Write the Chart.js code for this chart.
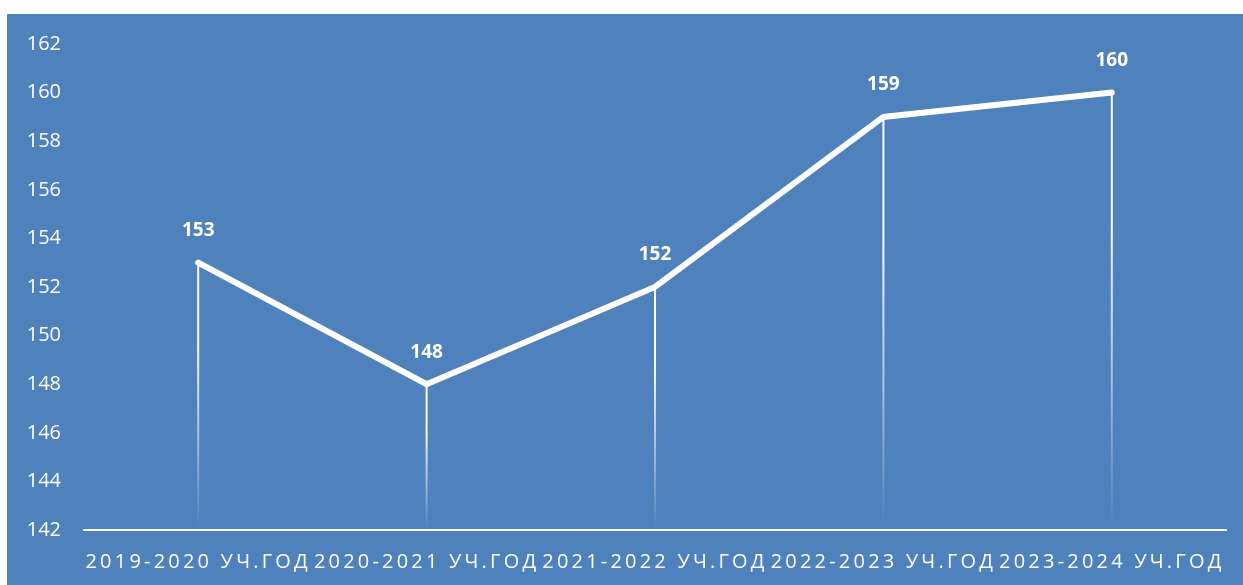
<!DOCTYPE html>
<html>
<head>
<meta charset="utf-8">
<script src="https://cdn.jsdelivr.net/npm/chart.js@4/dist/chart.umd.min.js"></script>
<style>
  html, body { margin: 0; padding: 0; background: #ffffff; }
  #wrap { position: absolute; left: 7px; top: 14px; width: 1236px; height: 571px; background: #4F81BD; }
  canvas { display: block; }
</style>
</head>
<body>
<div id="wrap"><canvas id="c" width="1236" height="571"></canvas></div>
<script>
const categories = ['2019-2020 УЧ.ГОД', '2020-2021 УЧ.ГОД', '2021-2022 УЧ.ГОД', '2022-2023 УЧ.ГОД', '2023-2024 УЧ.ГОД'];
const values = [153, 148, 152, 159, 160];
const yMin = 142;
const yMax = 162;
const yStep = 2;

const FONT = '"Open Sans", "Noto Sans", sans-serif';

const dropLines = {
  id: 'dropLines',
  beforeDatasetsDraw(chart) {
    const ctx = chart.ctx;
    const meta = chart.getDatasetMeta(0);
    const bottom = chart.chartArea.bottom;
    ctx.save();
    ctx.lineWidth = 2;
    meta.data.forEach(pt => {
      const g = ctx.createLinearGradient(0, pt.y, 0, bottom);
      g.addColorStop(0, 'rgba(255,255,255,1)');
      g.addColorStop(0.3, 'rgba(255,255,255,1)');
      g.addColorStop(1, 'rgba(255,255,255,0)');
      ctx.strokeStyle = g;
      ctx.beginPath();
      ctx.moveTo(pt.x, pt.y);
      ctx.lineTo(pt.x, bottom - 1);
      ctx.stroke();
    });
    ctx.restore();
  }
};

const valueLabels = {
  id: 'valueLabels',
  afterDatasetsDraw(chart) {
    const ctx = chart.ctx;
    const meta = chart.getDatasetMeta(0);
    const data = chart.data.datasets[0].data;
    ctx.save();
    ctx.fillStyle = '#ffffff';
    ctx.font = 'bold 19px ' + FONT;
    ctx.textAlign = 'center';
    ctx.textBaseline = 'middle';
    meta.data.forEach((pt, i) => {
      ctx.fillText(String(data[i]), pt.x, pt.y - 32);
    });
    ctx.restore();
  }
};

const spacedX = {
  id: 'spacedX',
  beforeDraw(chart) {
    const s = chart.scales.x;
    if (s && !s._spaced) {
      const orig = s.drawLabels.bind(s);
      s.drawLabels = function (area) {
        const c = this.ctx;
        c.save();
        c.letterSpacing = '3.2px';
        orig(area);
        c.restore();
      };
      s._spaced = true;
    }
  }
};

new Chart(document.getElementById('c'), {
  type: 'line',
  data: {
    labels: categories,
    datasets: [{
      data: values,
      borderColor: '#ffffff',
      borderWidth: 6,
      borderCapStyle: 'round',
      borderJoinStyle: 'miter',
      pointRadius: 0,
      tension: 0,
      fill: false
    }]
  },
  options: {
    responsive: false,
    animation: false,
    layout: { padding: { top: 30, right: 17, bottom: 0, left: 0 } },
    plugins: { legend: { display: false }, tooltip: { enabled: false } },
    scales: {
      x: {
        offset: true,
        grid: { display: false, drawTicks: false },
        border: { display: true, color: '#ffffff', width: 2 },
        ticks: { color: '#ffffff', font: { family: FONT, size: 20 }, padding: 20, maxRotation: 0, autoSkip: false },
        afterFit(scale) { scale.height = 55; }
      },
      y: {
        min: yMin,
        max: yMax,
        grid: { display: false, drawTicks: false },
        border: { display: false },
        ticks: { stepSize: yStep, color: '#ffffff', font: { family: FONT, size: 20 }, padding: 23 },
        afterFit(scale) {
          scale.width = 77;
          scale.paddingTop = 12;
          scale.paddingBottom = 12;
        }
      }
    }
  },
  plugins: [dropLines, valueLabels, spacedX]
});
</script>
</body>
</html>
